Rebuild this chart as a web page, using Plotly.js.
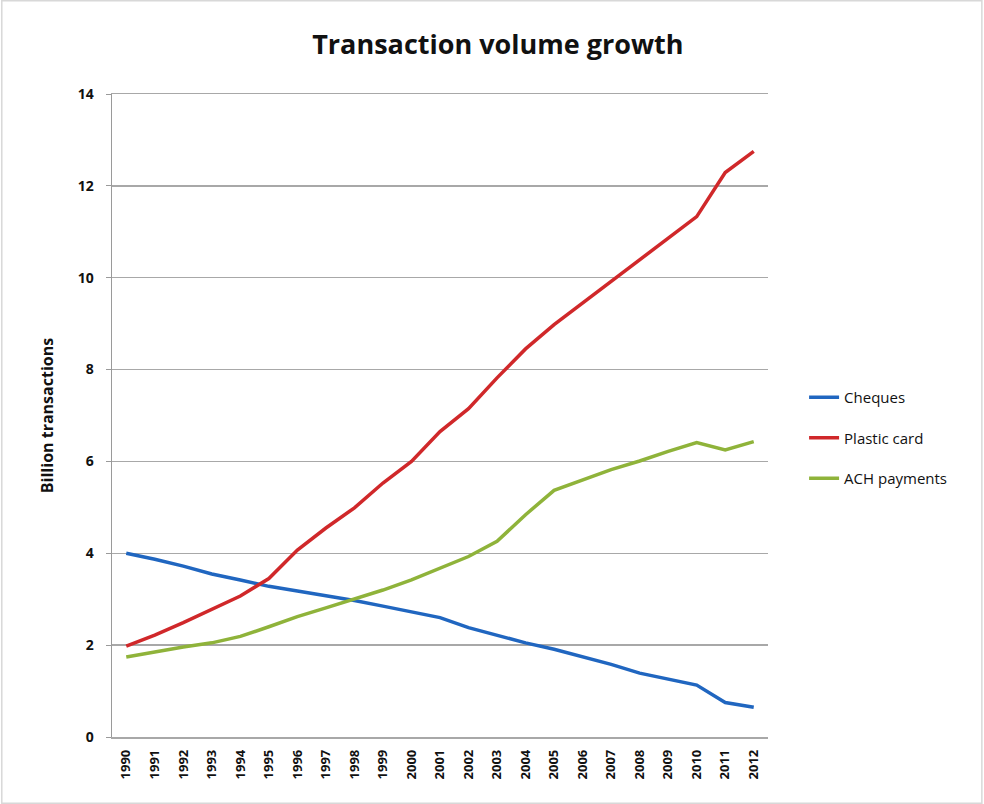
<!DOCTYPE html>
<html><head><meta charset="utf-8">
<script src="https://cdn.plot.ly/plotly-3.0.1.min.js"></script>
<style>html,body{margin:0;padding:0;background:#fff}#chart{width:984px;height:804px}</style>
</head><body><div id="chart"></div>
<script>
const years = ['1990','1991','1992','1993','1994','1995','1996','1997','1998','1999','2000','2001','2002','2003','2004','2005','2006','2007','2008','2009','2010','2011','2012'];
const cheques = [4.0,3.87,3.72,3.55,3.42,3.28,3.18,3.08,2.97,2.85,2.72,2.6,2.38,2.22,2.05,1.91,1.75,1.58,1.39,1.26,1.13,0.75,0.65];
const plasticCard = [1.98,2.22,2.49,2.77,3.07,3.45,4.07,4.55,4.99,5.53,6.0,6.65,7.15,7.82,8.45,8.98,9.45,9.92,10.39,10.85,11.33,12.29,12.75];
const achPayments = [1.74,1.85,1.96,2.05,2.19,2.4,2.62,2.81,3.0,3.2,3.42,3.68,3.93,4.26,4.84,5.37,5.6,5.82,6.01,6.22,6.41,6.25,6.43];
const seriesNames = ['Cheques','Plastic card','ACH payments'];
const yTicks = [0,2,4,6,8,10,12,14];

const colors = ['#2066c0','#d0282a','#8fb33a'];
const data = [cheques, plasticCard, achPayments].map((v,i)=>({
  x: years, y: v, type:'scatter', mode:'lines', name: seriesNames[i],
  legendgroup: 'g'+i,
  line:{color:colors[i], width:3.5}
}));

const layout = {
  width:984, height:804,
  paper_bgcolor:'#fff', plot_bgcolor:'#fff',
  margin:{l:112, r:216, t:94, b:67},
  title:{text:'<b>Transaction volume growth</b>', x:0.506, xanchor:'center', y:0.944, yanchor:'middle',
    font:{family:'Open Sans, sans-serif', size:27, color:'#111'}},
  font:{family:'Open Sans, sans-serif', color:'#111'},
  xaxis:{type:'category', range:[-0.5, 22.5], tickangle:-90, showgrid:false, showline:true, mirror:true, linecolor:'#a8a8a8', linewidth:1.5,
    ticks:'', tickfont:{size:13, color:'#111', family:'Open Sans, sans-serif', weight:'bold'}, ticklabelstandoff:6, fixedrange:true},
  yaxis:{range:[0,14], tickvals:yTicks, showgrid:true, gridcolor:'#a8a8a8', gridwidth:1.5,
    showline:true, linecolor:'#9a9a9a', linewidth:1.5, ticks:'outside', ticklen:5, tickcolor:'#9a9a9a',
    zeroline:false, tickfont:{size:14,color:'#111', weight:'bold'}, ticklabelstandoff:9,
    title:{text:'<b>Billion transactions</b>', font:{size:16,color:'#111'}, standoff:20}},
  showlegend:true,
  legend:{x:1.055, xanchor:'left', y:0.465, yanchor:'middle', traceorder:'grouped', tracegroupgap:18,
    font:{size:15,color:'#111'}, bgcolor:'rgba(0,0,0,0)'},
  shapes:[{type:'rect', xref:'paper', yref:'paper', x0:-0.168, x1:1.326, y0:-0.103, y1:1.145,
    line:{color:'#d8d8d8', width:1.5}}]
};
Plotly.newPlot('chart', data, layout, {displayModeBar:false, staticPlot:true});
</script></body></html>
